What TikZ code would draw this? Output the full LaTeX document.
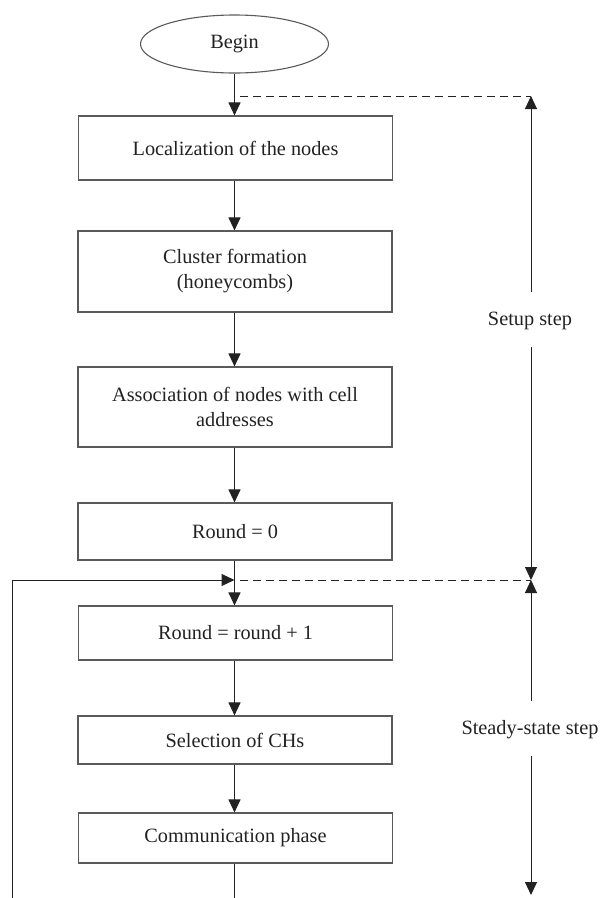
\documentclass[tikz,border=0pt]{standalone}
\usepackage{fontspec}
\setmainfont{Liberation Serif}
\usetikzlibrary{shapes.geometric,arrows.meta}
\definecolor{boxline}{HTML}{5A5A5A}
\definecolor{conn}{HTML}{222222}
\definecolor{txt}{HTML}{222222}
\begin{document}
\begin{tikzpicture}[x=1pt,y=-1pt,
  every node/.style={font=\fontsize{20.3}{25}\selectfont, text=txt},
  procbox/.style={draw=boxline, line width=1.1pt, minimum width=314pt, inner sep=0pt, align=center},
  startnode/.style={draw=boxline, line width=1.1pt, ellipse, minimum width=188pt, minimum height=58pt, inner sep=0pt},
  flow/.style={draw=conn, line width=1pt, -{Triangle[length=13pt,width=12pt]}},
  plain/.style={draw=conn, line width=1pt},
  dashline/.style={draw=conn, line width=1pt, dash pattern=on 8pt off 5pt},
  lbl/.style={inner sep=0pt}
]
\useasboundingbox (0,0) rectangle (602,898);

\node[startnode] (begin) at (234.5,44) {Begin};
\node[procbox, minimum height=64pt] (loc) at (235.5,148) {Localization of the nodes};
\node[procbox, minimum height=81pt] (clu) at (235,271.5) {Cluster formation\\(honeycombs)};
\node[procbox, minimum height=80pt] (ass) at (235,407) {Association of nodes with cell\\addresses};
\node[procbox, minimum height=57pt] (r0) at (235,531.5) {Round = 0};
\node[procbox, minimum height=54pt] (r1) at (235.5,633) {Round = round + 1};
\node[procbox, minimum height=48pt] (sel) at (235,740) {Selection of CHs};
\node[procbox, minimum height=50pt] (com) at (235.5,838) {Communication phase};

% main flow
\draw[flow] (begin.south) -- (begin.south |- loc.north);
\draw[flow] (begin.south |- loc.south) -- (begin.south |- clu.north);
\draw[flow] (begin.south |- clu.south) -- (begin.south |- ass.north);
\draw[flow] (begin.south |- ass.south) -- (begin.south |- r0.north);
\coordinate (j) at (234.5,580);
\draw[flow] (begin.south |- r0.south) -- (begin.south |- r1.north);
\draw[flow] (begin.south |- r1.south) -- (begin.south |- sel.north);
\draw[flow] (begin.south |- sel.south) -- (begin.south |- com.north);
\coordinate (bot) at (234.5,898);
\draw[plain] (begin.south |- com.south) -- (bot);

% feedback loop
\coordinate (lb) at (12,898);
\coordinate (lt) at (12,580);
\draw[flow] (lb) -- (lt) -- (j);

% dashed boundaries
\coordinate (d1a) at (240,96);
\coordinate (d1b) at (531,96);
\coordinate (d2a) at (240,580);
\coordinate (d2b) at (531,580);
\draw[dashline] (d1a) -- (d1b);
\draw[dashline] (d2a) -- (d2b);

% phase labels
\node[lbl] (setup) at (530,321) {Setup step};
\node[lbl] (steady) at (530,730) {Steady-state step};

\coordinate (s1) at (531,292);
\coordinate (s2) at (531,347);
\coordinate (t1) at (531,701);
\coordinate (t2) at (531,756);
\coordinate (tend) at (531,895);
\draw[flow] (s1) -- (d1b);
\draw[flow] (s2) -- (d2b);
\draw[flow] (t1) -- (d2b);
\draw[flow] (t2) -- (tend);
\end{tikzpicture}
\end{document}
